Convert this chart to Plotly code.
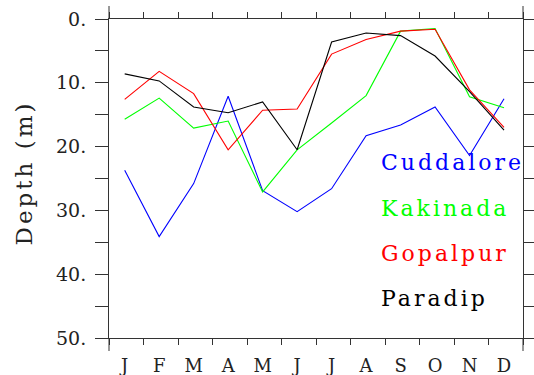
import plotly.graph_objects as go

# Monthly depth (m) at four coastal stations
months = ["J", "F", "M", "A", "M", "J", "J", "A", "S", "O", "N", "D"]
cuddalore = [23.7, 34.1, 25.8, 12.1, 26.9, 30.2, 26.6, 18.3, 16.6, 13.8, 21.4, 12.5]
kakinada = [15.7, 12.4, 17.1, 16.0, 27.1, 20.5, 16.3, 12.0, 1.9, 1.5, 12.2, 13.9]
gopalpur = [12.6, 8.2, 11.7, 20.5, 14.3, 14.1, 5.5, 3.2, 1.9, 1.6, 11.1, 17.0]
paradip = [8.6, 9.7, 13.8, 14.7, 13.0, 20.5, 3.6, 2.2, 2.6, 5.8, 11.4, 17.4]

station_names = ["Cuddalore", "Kakinada", "Gopalpur", "Paradip"]
station_values = [cuddalore, kakinada, gopalpur, paradip]
station_colors = ["#0000ff", "#00ff00", "#ff0000", "#000000"]

# Where the station names are written inside the plot (month index, depth)
label_x = 7.38
label_depths = [22.5, 29.7, 36.8, 43.8]

y_ticks = list(range(0, 51, 5))
y_ticktext = [f"{v}." if v % 10 == 0 else "" for v in y_ticks]

FONT = "DejaVu Serif"
AXIS = "#333333"


def spaced(text, px):
    return f'<span style="letter-spacing:{px}px">{text}</span>'


x = list(range(len(months)))
fig = go.Figure()
for name, vals, col in zip(station_names, station_values, station_colors):
    fig.add_trace(go.Scatter(x=x, y=vals, mode="lines", name=name,
                             line=dict(color=col, width=1.1)))

for name, yv, col in zip(station_names, label_depths, station_colors):
    fig.add_annotation(x=label_x, y=yv, xref="x", yref="y", text=spaced(name, 3),
                       showarrow=False, xanchor="left", yanchor="middle",
                       font=dict(family=FONT, size=22, color=col))

fig.add_annotation(x=-0.206, y=0.518, xref="paper", yref="paper",
                   text=spaced("Depth (m)", 3), textangle=-90, showarrow=False,
                   xanchor="center", yanchor="middle",
                   font=dict(family=FONT, size=23, color="#222222"))

# frame lines run a little past the corners
ext = 13 / 319
for xp in (0, 1):
    fig.add_shape(type="line", xref="paper", yref="paper", x0=xp, x1=xp,
                  y0=1, y1=1 + ext, line=dict(color=AXIS, width=1))
    fig.add_shape(type="line", xref="paper", yref="paper", x0=xp, x1=xp,
                  y0=0, y1=-ext, line=dict(color=AXIS, width=1))

fig.update_layout(
    width=534, height=375,
    margin=dict(l=109, r=11, t=19, b=37, autoexpand=False),
    plot_bgcolor="white", paper_bgcolor="white",
    showlegend=False,
    font=dict(family=FONT, color="#222222"),
    xaxis=dict(
        range=[-0.455, 11.55], tickmode="array", tickvals=x,
        ticktext=months, tickangle=0, automargin=False,
        ticks="outside", ticklen=0, showgrid=False, zeroline=False,
        showline=True, linecolor=AXIS, linewidth=1, mirror="allticks",
        tickfont=dict(family=FONT, size=18, color="#222222"),
        ticklabelstandoff=11,
        minor=dict(ticks="outside", ticklen=6, tick0=-0.45, dtick=1,
                   tickcolor=AXIS, showgrid=False),
    ),
    yaxis=dict(
        range=[50, 0], tickmode="array", tickvals=y_ticks,
        ticktext=y_ticktext, automargin=False,
        ticks="outside", ticklen=13, tickcolor=AXIS, showgrid=False,
        zeroline=False, showline=True, linecolor=AXIS, linewidth=1,
        mirror="allticks",
        tickfont=dict(family=FONT, size=19, color="#222222"),
        ticklabelstandoff=5,
    ),
)

fig.write_html("out.html")
